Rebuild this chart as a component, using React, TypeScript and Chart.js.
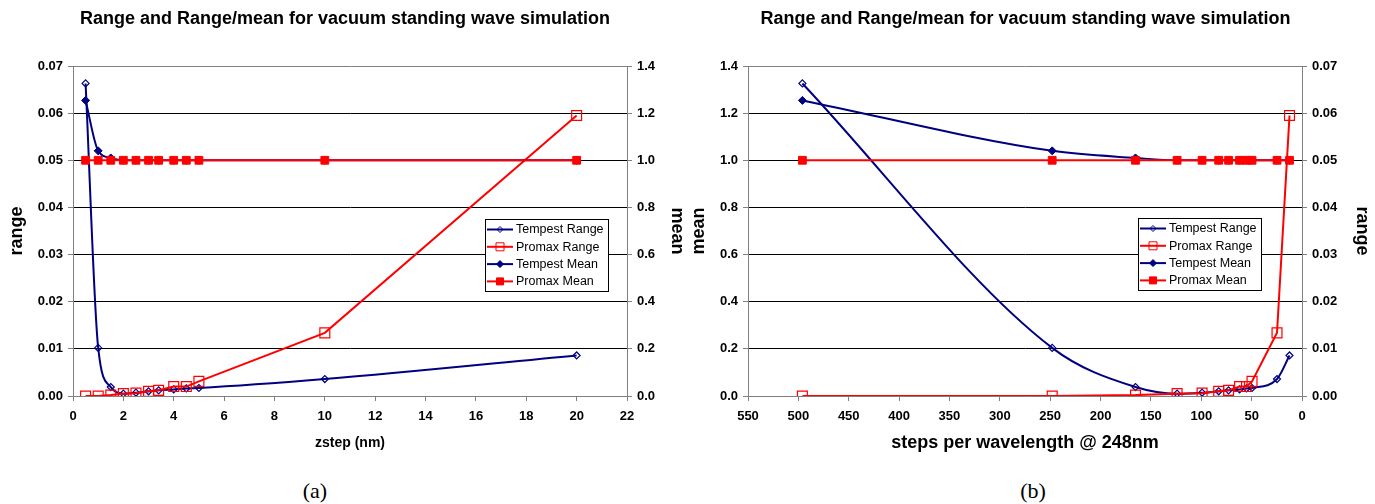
import React, { useEffect, useRef } from 'react';
import { Chart, registerables } from 'chart.js';

Chart.register(...registerables);

// ---------- data ----------
const chartTitle = 'Range and Range/mean for vacuum standing wave simulation';
const seriesNames = ['Tempest Range', 'Promax Range', 'Tempest Mean', 'Promax Mean'];
const zstepNm = [0.5, 1, 1.5, 2, 2.5, 3, 3.4, 4, 4.5, 5, 10, 20];
const stepsPerWavelength = [496, 248, 165.3, 124, 99.2, 82.7, 72.9, 62, 55.1, 49.6, 24.8, 12.4];
const tempestRange = [0.0663, 0.0102, 0.0019, 0.0005, 0.0007, 0.001, 0.0012, 0.0014, 0.0016, 0.0017, 0.0036, 0.0086];
const promaxRange = [0.0, 0.0, 0.0002, 0.0005, 0.0006, 0.001, 0.0012, 0.002, 0.002, 0.0031, 0.0134, 0.0595];
const tempestMean = [1.254, 1.04, 1.01, 1.0, 1.0, 1.0, 1.0, 1.0, 1.0, 1.0, 1.0, 1.0];
const promaxMean = [1.0, 1.0, 1.0, 1.0, 1.0, 1.0, 1.0, 1.0, 1.0, 1.0, 1.0, 1.0];
const rangeAxis = [0, 0.07, 0.01];
const meanAxis = [0, 1.4, 0.2];
const zstepAxis = [0, 22, 2];
const stepsAxis = [0, 550, 50];

// ---------- styles ----------
const NAVY = '#000080';
const RED = '#FF0000';
const GRAY = '#808080';
const FONT = "Arial, 'Liberation Sans', Helvetica, sans-serif";
const CANVAS_H = 470;

const legendItems = [
  { name: seriesNames[0], color: NAVY, shape: 'diamond', filled: false, r: 3 },
  { name: seriesNames[1], color: RED, shape: 'square', filled: false, r: 4 },
  { name: seriesNames[2], color: NAVY, shape: 'diamond', filled: true, r: 3.5 },
  { name: seriesNames[3], color: RED, shape: 'square', filled: true, r: 3.5 },
];

function drawMarker(ctx: CanvasRenderingContext2D, shape: string, cx: number, cy: number, r: number, filled: boolean, color: string) {
  ctx.beginPath();
  if (shape === 'diamond') {
    ctx.moveTo(cx, cy - r);
    ctx.lineTo(cx + r, cy);
    ctx.lineTo(cx, cy + r);
    ctx.lineTo(cx - r, cy);
    ctx.closePath();
  } else {
    ctx.rect(cx - r, cy - r, 2 * r, 2 * r);
  }
  if (filled) {
    ctx.fillStyle = color;
    ctx.fill();
  }
  ctx.strokeStyle = color;
  ctx.lineWidth = 1;
  ctx.stroke();
}

const insideLegend = {
  id: 'insideLegend',
  afterDraw(chart: any, _args: any, opts: any) {
    const { ctx, chartArea } = chart;
    const x0 = Math.round(chartArea.left + opts.dx);
    const y0 = Math.round(chartArea.top + opts.dy);
    const w = 123;
    const h = 72;
    ctx.save();
    ctx.fillStyle = '#ffffff';
    ctx.fillRect(x0, y0, w, h);
    ctx.strokeStyle = '#000000';
    ctx.lineWidth = 1;
    ctx.strokeRect(x0 + 0.5, y0 + 0.5, w, h);
    ctx.font = `12.5px ${FONT}`;
    ctx.textBaseline = 'middle';
    ctx.textAlign = 'left';
    legendItems.forEach((it, i) => {
      const cy = y0 + 10.5 + i * 17.3;
      ctx.beginPath();
      ctx.moveTo(x0 + 2, cy);
      ctx.lineTo(x0 + 28, cy);
      ctx.strokeStyle = it.color;
      ctx.lineWidth = 2;
      ctx.stroke();
      drawMarker(ctx, it.shape, x0 + 15, cy, it.r, it.filled, it.color);
      ctx.fillStyle = '#000000';
      ctx.fillText(it.name, x0 + 31, cy + 0.5);
    });
    ctx.restore();
  },
};

function buildConfig(kind: 'a' | 'b'): any {
  const isA = kind === 'a';
  const xs = isA ? zstepNm : stepsPerWavelength;
  const rangeId = isA ? 'yLeft' : 'yRight';
  const meanId = isA ? 'yRight' : 'yLeft';
  const pts = (ys: number[]) => xs.map((x, i) => ({ x, y: ys[i] }));
  const leftAxis = isA ? rangeAxis : meanAxis;
  const rightAxis = isA ? meanAxis : rangeAxis;
  const xAxis = isA ? zstepAxis : stepsAxis;
  const leftDigits = isA ? 2 : 1;
  const rightDigits = isA ? 1 : 2;
  const canvasW = isA ? 690 : 699;
  const leftW = isA ? 73 : 72;
  const rightW = isA ? 63 : 73;

  const tickFont = { family: FONT, size: 13, weight: 'bold' as const };
  const axisTitleFont = { family: FONT, size: 18, weight: 'bold' as const };

  const datasets = [
    {
      label: seriesNames[0],
      data: pts(tempestRange),
      yAxisID: rangeId,
      borderColor: NAVY,
      backgroundColor: 'rgba(0,0,0,0)',
      borderWidth: 2,
      pointStyle: 'rectRot',
      pointRadius: 3.5,
      pointBorderWidth: 1.2,
      pointBorderColor: NAVY,
      pointBackgroundColor: 'rgba(0,0,0,0)',
      cubicInterpolationMode: 'monotone',
      order: 4,
    },
    {
      label: seriesNames[1],
      data: pts(promaxRange),
      yAxisID: rangeId,
      borderColor: RED,
      backgroundColor: 'rgba(0,0,0,0)',
      borderWidth: 2,
      pointStyle: 'rect',
      pointRadius: 7,
      pointBorderWidth: 1.2,
      pointBorderColor: RED,
      pointBackgroundColor: 'rgba(0,0,0,0)',
      tension: 0,
      order: 3,
    },
    {
      label: seriesNames[2],
      data: pts(tempestMean),
      yAxisID: meanId,
      borderColor: NAVY,
      backgroundColor: NAVY,
      borderWidth: 2,
      pointStyle: 'rectRot',
      pointRadius: 4,
      pointBorderWidth: 1,
      pointBorderColor: NAVY,
      pointBackgroundColor: NAVY,
      cubicInterpolationMode: 'monotone',
      order: 2,
    },
    {
      label: seriesNames[3],
      data: pts(promaxMean),
      yAxisID: meanId,
      borderColor: RED,
      backgroundColor: RED,
      borderWidth: 2,
      pointStyle: 'rect',
      pointRadius: 5.5,
      pointBorderWidth: 1,
      pointBorderColor: RED,
      pointBackgroundColor: RED,
      tension: 0,
      order: 1,
    },
  ];

  const leftMax = leftAxis[1];
  return {
    type: 'line',
    data: { datasets },
    plugins: [insideLegend],
    options: {
      responsive: false,
      animation: false,
      devicePixelRatio: 1,
      layout: { padding: 0 },
      events: [],
      plugins: {
        legend: { display: false },
        tooltip: { enabled: false },
        title: {
          display: true,
          text: chartTitle,
          color: '#000000',
          font: { family: FONT, size: 18, weight: 'bold' },
          padding: { top: 8, bottom: 36.4 },
        },
        insideLegend: isA ? { dx: 412, dy: 153 } : { dx: 390, dy: 152 },
      },
      scales: {
        x: {
          type: 'linear',
          position: 'bottom',
          min: xAxis[0],
          max: xAxis[1],
          reverse: !isA,
          ticks: {
            stepSize: xAxis[2],
            color: '#000000',
            font: tickFont,
            padding: 8,
            autoSkip: false,
            maxRotation: 0,
          },
          grid: { drawOnChartArea: false, drawTicks: true, tickLength: 5, tickColor: GRAY, lineWidth: 1 },
          border: { display: true, color: GRAY, width: 1 },
          title: {
            display: true,
            text: isA ? 'zstep (nm)' : 'steps per wavelength @ 248nm',
            color: '#000000',
            font: isA ? { family: FONT, size: 14, weight: 'bold' } : axisTitleFont,
            padding: { top: 0, bottom: isA ? 18 : 16 },
          },
          afterFit: (s: any) => {
            s.height = 74;
          },
        },
        yLeft: {
          type: 'linear',
          position: 'left',
          min: leftAxis[0],
          max: leftAxis[1],
          ticks: {
            stepSize: leftAxis[2],
            color: '#000000',
            font: tickFont,
            padding: 5,
            callback: (v: any) => Number(v).toFixed(leftDigits),
          },
          grid: {
            drawOnChartArea: true,
            drawTicks: true,
            tickLength: 5,
            tickColor: GRAY,
            lineWidth: 1,
            color: (c: any) => {
              const v = c.tick ? c.tick.value : 0;
              return Math.abs(v) < 1e-9 || Math.abs(v - leftMax) < 1e-9 ? GRAY : '#000000';
            },
          },
          border: { display: true, color: GRAY, width: 1 },
          title: {
            display: true,
            text: isA ? 'range' : 'mean',
            color: '#000000',
            font: axisTitleFont,
            padding: { top: isA ? 6 : 12, bottom: 0 },
          },
          afterFit: (s: any) => {
            s.width = leftW;
          },
        },
        yRight: {
          type: 'linear',
          position: 'right',
          min: rightAxis[0],
          max: rightAxis[1],
          ticks: {
            stepSize: rightAxis[2],
            color: '#000000',
            font: tickFont,
            padding: 5,
            callback: (v: any) => Number(v).toFixed(rightDigits),
          },
          grid: { drawOnChartArea: false, drawTicks: true, tickLength: 5, tickColor: GRAY, lineWidth: 1 },
          border: { display: true, color: GRAY, width: 1 },
          title: {
            display: true,
            text: isA ? 'mean' : 'range',
            color: '#000000',
            font: axisTitleFont,
            padding: { top: 2, bottom: 0 },
          },
          afterFit: (s: any) => {
            s.width = rightW;
          },
        },
      },
    },
    _canvasW: canvasW,
  };
}

function ChartPanel({ kind, left }: { kind: 'a' | 'b'; left: number }) {
  const ref = useRef<HTMLCanvasElement>(null);
  const width = kind === 'a' ? 690 : 699;
  useEffect(() => {
    if (!ref.current) return;
    const cfg = buildConfig(kind);
    delete cfg._canvasW;
    const chart = new Chart(ref.current, cfg);
    return () => chart.destroy();
  }, [kind]);
  return (
    <canvas
      ref={ref}
      width={width}
      height={CANVAS_H}
      style={{ position: 'absolute', left, top: 0, width, height: CANVAS_H }}
    />
  );
}

const captionStyle: React.CSSProperties = {
  position: 'absolute',
  top: 480,
  width: 60,
  textAlign: 'center',
  fontFamily: "'Liberation Serif', 'Times New Roman', serif",
  fontSize: 22,
  lineHeight: '22px',
  color: '#000',
};

export default function App() {
  return (
    <div
      style={{
        position: 'absolute',
        left: 0,
        top: 0,
        width: 1375,
        height: 504,
        background: '#ffffff',
        overflow: 'hidden',
      }}
    >
      <ChartPanel kind="a" left={0} />
      <ChartPanel kind="b" left={676} />
      <div style={{ ...captionStyle, left: 315 - 30 }}>(a)</div>
      <div style={{ ...captionStyle, left: 1033 - 30 }}>(b)</div>
    </div>
  );
}
